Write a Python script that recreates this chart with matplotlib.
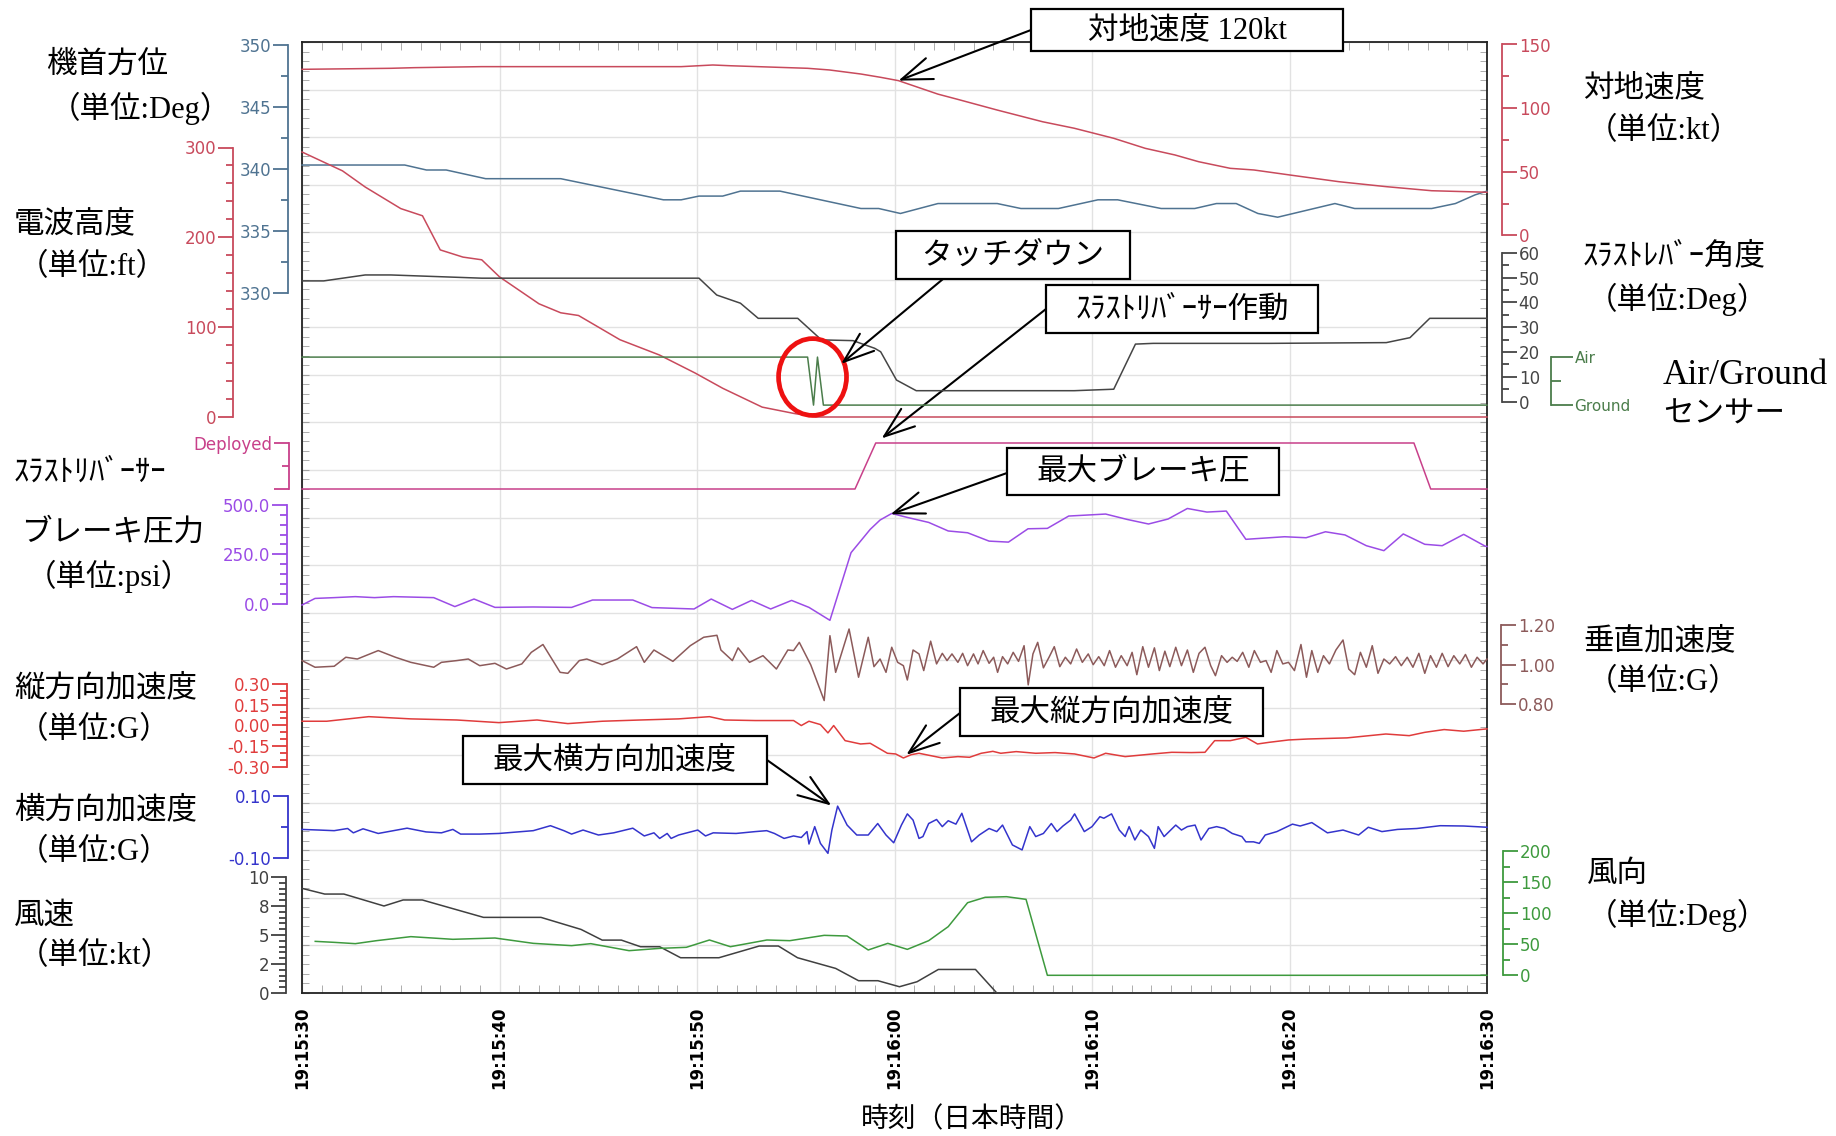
import matplotlib
matplotlib.use('Agg')
import matplotlib.pyplot as plt
from matplotlib.patches import Rectangle, Ellipse
from matplotlib.ticker import MultipleLocator, FixedLocator

# ---- geometry of the reference (pixels) ----
W, H = 1836, 1136
X0, X1 = 302, 1487
Y0, Y1 = 42, 993
PW = X1 - X0

JP = ['Noto Sans CJK JP']
SERIF_JP = ['Liberation Serif', 'Noto Sans CJK JP']

# ---- data: seconds after 19:15:30 ----
time_labels = ['19:15:30', '19:15:40', '19:15:50', '19:16:00', '19:16:10', '19:16:20', '19:16:30']

gs_t = [0, 4.5, 5.7, 9.1, 19.2, 20.8, 21.7, 25.6, 26.7, 28.3, 29.3, 30.2, 32.2, 33.2, 35.2, 37.5,
        39.1, 41.1, 42.7, 44.2, 45.4, 47.0, 48.2, 50.0, 52.5, 54.9, 57.2, 60.0]
gs_v = [130.5, 131.3, 131.8, 132.6, 132.6, 133.9, 133.3, 131.3, 130.0, 126.8, 124.2, 121.6, 111.0,
        106.9, 98.5, 89.3, 84.2, 76.3, 68.4, 63.2, 57.9, 52.7, 51.4, 47.5, 42.2, 38.3, 35.1, 33.9]

hd_t = [0, 5.2, 6.3, 7.3, 9.3, 13.1, 18.3, 19.2, 20.1, 21.3, 22.2, 24.2, 28.3, 29.2, 30.3, 32.2, 35.2,
        36.4, 38.3, 40.3, 41.3, 43.5, 45.2, 46.3, 47.3, 48.4, 49.4, 52.3, 53.3, 57.2, 58.4, 59.4, 60]
hd_v = [340.3, 340.3, 339.9, 339.9, 339.2, 339.2, 337.5, 337.5, 337.8, 337.8, 338.2, 338.2, 336.8,
        336.8, 336.4, 337.2, 337.2, 336.8, 336.8, 337.5, 337.5, 336.8, 336.8, 337.2, 337.2, 336.4,
        336.1, 337.2, 336.8, 336.8, 337.2, 337.9, 338.2]

ra_t = [0, 2.05, 3.2, 5.0, 6.1, 7.0, 8.15, 9.1, 10.0, 12.0, 13.1, 14.0, 16.1, 18.1, 19.9, 21.3,
        23.3, 24.9, 26.0, 60]
ra_v = [295, 274, 256, 232, 224, 186, 178, 175, 156, 126, 116, 113, 86, 69, 49, 32, 11, 4, 0, 0]

tl_t = [0, 1.1, 3.2, 4.5, 9.1, 20.1, 21.0, 22.2, 23.1, 25.1, 26.3, 27.9, 29.0, 29.3, 30.1, 31.1,
        39.1, 41.1, 42.2, 43.1, 49.0, 54.9, 56.1, 57.1, 60]
tl_v = [48.7, 48.7, 51.1, 51.1, 49.8, 49.8, 43.0, 39.7, 33.6, 33.6, 24.9, 24.6, 21.5, 20.1, 8.7, 4.4,
        4.4, 5.0, 23.2, 23.5, 23.5, 23.8, 25.8, 33.6, 33.6]

ag_t = [0, 25.6, 25.9, 26.1, 26.4, 60]
ag_v = [1, 1, 0, 1, 0, 0]

tr_t = [0, 28.0, 29.05, 56.3, 57.15, 60]
tr_v = [0, 0, 1, 1, 0, 0]

bp_t = [0, 0.66, 1.63, 2.7, 3.67, 4.64, 6.67, 7.74, 8.71, 9.77, 11.71, 13.65, 14.71, 16.75, 17.72,
        19.85, 20.72, 21.79, 22.76, 23.73, 24.79, 25.67, 26.73, 27.8, 28.77, 29.27, 29.86, 30.65,
        31.73, 32.72, 33.7, 34.79, 35.77, 36.76, 37.74, 38.82, 40.69, 41.78, 42.86, 43.85, 44.83,
        45.82, 46.8, 47.79, 49.75, 50.84, 51.82, 52.81, 53.89, 54.78, 55.76, 56.85, 57.73, 58.82,
        59.9, 60]
bp_v = [-4, 29, 33, 38, 33, 38, 33, -12, 26, -16, -14, -16, 21, 21, -17, -24, 26, -26, 19, -24, 19,
        -16, -81, 259, 376, 423, 456, 436, 411, 368, 359, 317, 312, 379, 381, 443, 453, 426, 403, 428,
        481, 463, 468, 326, 339, 334, 364, 348, 294, 269, 353, 301, 294, 351, 292, 290]

va_t = [0, 0.66, 1.63, 2.22, 2.8, 3.86, 4.73, 5.51, 6.67, 7.06, 7.84, 8.42, 9.0, 9.77, 10.35, 11.13,
        11.61, 12.2, 13.07, 13.46, 14.04, 14.42, 15.2, 15.97, 16.94, 17.33, 17.82, 18.78, 19.66,
        20.34, 21.01, 21.21, 21.79, 22.08, 22.66, 23.34, 24.02, 24.6, 24.89, 25.18, 25.76, 26.44,
        26.73, 27.02, 27.7, 28.18, 28.67, 28.96,
        29.27, 29.57, 29.86, 30.16, 30.45, 30.65, 30.94, 31.24, 31.48, 31.83, 32.13, 32.42, 32.66,
        32.91, 33.21, 33.45, 33.70, 34.00, 34.23, 34.49, 34.79, 35.02, 35.22, 35.47, 35.73, 36.01,
        36.28, 36.56, 36.77, 37.01, 37.25, 37.54, 37.84, 38.09, 38.37, 38.65, 38.92, 39.22, 39.51,
        39.81, 40.06, 40.34, 40.62, 40.89, 41.19, 41.48, 41.78, 42.03, 42.27, 42.57, 42.86, 43.16,
        43.41, 43.69, 43.94, 44.24, 44.53, 44.83, 45.13, 45.42, 45.72, 46.01, 46.25, 46.56, 46.84,
        47.10, 47.35, 47.63, 47.94, 48.22, 48.53, 48.81, 49.07, 49.36, 49.66, 49.95, 50.25, 50.58,
        50.86, 51.13, 51.43, 51.72, 52.02, 52.35, 52.71, 53.00, 53.30, 53.59, 53.89, 54.19, 54.48,
        54.78, 55.07, 55.37, 55.66, 55.96, 56.25, 56.55, 56.85, 57.14, 57.44, 57.73, 58.03, 58.32,
        58.62, 58.91, 59.21, 59.50, 59.80, 60.0]
va_v = [1.020, 0.986, 0.991, 1.037, 1.028, 1.071, 1.037, 1.011, 0.986, 1.011, 1.020, 1.028, 0.994,
        1.006, 0.977, 1.003, 1.062, 1.102, 0.960, 0.955, 1.020, 1.028, 0.999, 1.028, 1.091, 1.011,
        1.074, 1.016, 1.096, 1.139, 1.149, 1.074, 1.020, 1.085, 1.011, 1.045, 0.977, 1.074, 1.071,
        1.113, 0.998, 0.816, 1.147, 0.960, 1.181, 0.935, 1.139, 0.989,
        1.028, 0.960, 1.088, 1.011, 0.994, 0.921, 1.074, 1.054, 0.969, 1.119, 1.003, 1.057, 1.020,
        1.054, 1.011, 1.057, 0.994, 1.054, 1.003, 1.071, 1.006, 1.037, 0.960, 1.040, 1.003, 1.062,
        1.016, 1.096, 0.896, 1.054, 1.113, 0.983, 1.040, 1.091, 0.989, 1.037, 1.003, 1.079, 1.011,
        1.054, 0.999, 1.040, 0.994, 1.071, 0.986, 1.045, 0.994, 1.062, 0.948, 1.091, 0.986, 1.085,
        0.969, 1.068, 0.989, 1.088, 0.994, 1.074, 0.960, 1.057, 1.088, 0.994, 0.943, 1.045, 1.011,
        1.037, 1.016, 1.062, 0.986, 1.071, 1.011, 1.020, 0.960, 1.071, 1.003, 1.011, 0.969, 1.102,
        0.935, 1.071, 0.960, 1.045, 1.003, 1.074, 1.125, 0.977, 0.948, 1.062, 0.986, 1.096, 0.955,
        1.028, 1.003, 1.040, 0.994, 1.037, 0.986, 1.057, 0.955, 1.045, 0.986, 1.057, 0.989, 1.045,
        1.003, 1.051, 0.986, 1.037, 1.003, 1.028]

la_t = [0, 1.25, 3.38, 5.51, 7.84, 9.97, 11.9, 13.46, 15.2, 17.14, 19.07, 20.63, 21.4, 22.95, 24.89,
        25.28, 25.67, 26.25, 26.63, 26.92, 27.5, 28.28, 28.77, 29.64, 30.06, 30.45, 30.85, 31.24,
        31.83, 32.42, 33.21, 33.8, 34.39, 34.98, 35.38, 36.16, 37.15, 38.13, 39.12, 40.1, 40.69,
        41.68, 43.06, 44.04, 45.03, 45.72, 46.21, 47.0, 47.79, 48.38, 48.97, 49.95, 50.94, 52.91,
        54.88, 56.06, 56.85, 57.83, 58.82, 60]
la_v = [0.030, 0.030, 0.063, 0.047, 0.039, 0.020, 0.039, 0.013, 0.030, 0.039, 0.047, 0.063, 0.039,
        0.035, 0.035, -0.001, 0.030, 0.006, -0.054, -0.001, -0.110, -0.134, -0.129, -0.201, -0.206,
        -0.235, -0.211, -0.201, -0.218, -0.235, -0.225, -0.230, -0.201, -0.187, -0.201, -0.189,
        -0.201, -0.196, -0.206, -0.235, -0.201, -0.225, -0.206, -0.194, -0.196, -0.194, -0.110,
        -0.110, -0.086, -0.134, -0.122, -0.105, -0.098, -0.090, -0.062, -0.074, -0.050, -0.030,
        -0.042, -0.025]

lat_t = [0, 0.86, 1.63, 2.31, 2.60, 3.09, 3.86, 5.32, 6.28, 7.06, 7.64, 8.03, 9.0, 9.97, 10.94,
         11.71, 12.58, 13.26, 13.65, 14.23, 15.01, 15.78, 16.75, 17.33, 17.82, 18.11, 18.49, 18.69,
         19.07, 20.04, 20.43, 20.82, 21.98, 22.95, 23.53, 23.92, 24.41, 24.89, 25.28, 25.57, 25.67,
         25.96, 26.25, 26.63, 26.83, 27.12, 27.6, 28.09, 28.67, 29.15,
         29.57, 29.96, 30.35, 30.65, 30.94, 31.24, 31.44, 31.73, 32.13, 32.42, 32.72, 33.11, 33.41,
         33.9, 34.29, 34.79, 35.18, 35.47, 35.97, 36.46, 36.85, 37.15, 37.54, 37.94, 38.23, 38.53,
         38.92, 39.12, 39.61, 40.0, 40.4, 40.6, 40.99, 41.38, 41.68, 41.88, 42.17, 42.47, 42.86,
         43.16, 43.35, 43.65, 44.24, 44.53, 44.83, 45.22, 45.52, 45.91, 46.31, 46.7, 47.1, 47.59,
         47.79, 48.18, 48.47, 48.77, 49.36, 50.15, 50.54, 51.13, 51.92, 52.71, 53.5, 53.99, 54.68,
         55.47, 56.45, 57.63, 58.82, 60.0]
lat_v = [-0.007, -0.009, -0.011, -0.004, -0.018, -0.005, -0.020, -0.003, -0.015, -0.018, -0.007,
         -0.022, -0.022, -0.020, -0.015, -0.011, 0.005, -0.011, -0.022, -0.009, -0.025, -0.018,
         -0.003, -0.028, -0.018, -0.036, -0.020, -0.036, -0.025, -0.009, -0.028, -0.018, -0.020,
         -0.014, -0.011, -0.020, -0.036, -0.028, -0.033, -0.014, -0.054, 0.002, -0.052, -0.084,
         -0.009, 0.068, 0.007, -0.025, -0.025, 0.012,
         -0.025, -0.050, 0.007, 0.043, 0.023, -0.036, -0.030, 0.012, 0.025, 0.002, 0.021, 0.010,
         0.045, -0.047, -0.025, -0.004, -0.014, 0.007, -0.057, -0.073, 0.002, -0.030, -0.020, 0.012,
         -0.014, 0.004, 0.023, 0.043, -0.014, 0.002, 0.034, 0.029, 0.043, -0.009, -0.030, 0.002,
         -0.041, -0.009, -0.030, -0.068, 0.002, -0.030, 0.007, -0.009, 0.002, 0.007, -0.041, -0.004,
         0.002, -0.004, -0.020, -0.030, -0.047, -0.047, -0.052, -0.025, -0.014, 0.010, 0.004, 0.015,
         -0.018, -0.009, -0.025, 0.000, -0.014, -0.007, -0.004, 0.005, 0.004, 0.000]

ws_t = [0, 1.15, 2.12, 4.15, 5.12, 6.09, 9.19, 12.1, 14.13, 15.2, 16.17, 17.14, 18.11, 19.17, 21.11,
        23.15, 24.12, 25.09, 27.02, 28.18, 29.16, 30.25, 31.14, 32.22, 34.1, 35.18, 60]
ws_v = [9.02, 8.53, 8.53, 7.5, 8.02, 8.02, 6.52, 6.52, 5.48, 4.56, 4.56, 3.99, 3.99, 3.04, 3.04,
        4.05, 4.05, 3.04, 2.12, 1.06, 1.06, 0.54, 0.97, 2.03, 2.03, 0, 0]

wd_t = [0.67, 1.63, 2.7, 3.77, 5.51, 7.64, 9.77, 11.71, 13.65, 14.62, 16.56, 18.11, 19.46, 20.63,
        21.69, 23.54, 24.7, 26.44, 27.6, 28.67, 29.66, 30.65, 31.73, 32.72, 33.7, 34.59, 35.67,
        36.66, 37.74, 60]
wd_v = [54.7, 53.1, 51.0, 55.8, 62.3, 58, 60.1, 51.5, 47.8, 51.0, 39.7, 43.4, 45.1, 56.9, 46.1,
        56.9, 55.8, 64.4, 63.3, 40.8, 51.5, 41.8, 55.8, 78.4, 117, 125.7, 126.7, 122.4, 0, 0]

# ---- figure ----
fig = plt.figure(figsize=(W / 100, H / 100), dpi=100)
fig.patch.set_facecolor('white')


def fx(x):
    return x / W


def fy(y):
    return 1 - y / H


main = fig.add_axes([fx(X0), fy(Y1), PW / W, (Y1 - Y0) / H])
main.set_xlim(0, 60)
main.set_ylim(0, 20)
main.set_axisbelow(True)
main.set_xticks(range(0, 61, 10))
main.set_xticklabels(time_labels, rotation=90, fontsize=12, fontweight='bold')
main.xaxis.set_minor_locator(MultipleLocator(1))
main.set_yticks(range(21))
main.yaxis.set_minor_locator(MultipleLocator(0.2))
main.grid(True, which='major', color='#e2e2e2', lw=1.0)
main.tick_params(which='both', direction='in', top=True, right=True, color='#a0a0a0',
                 labelleft=False)
main.tick_params(axis='x', which='major', length=0, pad=10)
main.tick_params(axis='x', which='minor', length=6)
main.tick_params(axis='y', which='both', length=5)
for s in main.spines.values():
    s.set_linewidth(1.3)
    s.set_color('#222222')


def scale_axis(ytop, ybot, lo, hi, side, xsp, color, ticks, labels, minor,
               major_len=11, minor_len=5, fs=12):
    ax = fig.add_axes([fx(X0), fy(ybot), PW / W, (ybot - ytop) / H])
    ax.set_xlim(0, 60)
    ax.set_ylim(lo, hi)
    ax.patch.set_visible(False)
    for s in ax.spines.values():
        s.set_visible(False)
    sp = ax.spines[side]
    sp.set_visible(True)
    sp.set_position(('axes', (xsp - X0) / PW))
    sp.set_color(color)
    sp.set_linewidth(1.3)
    ax.yaxis.set_ticks_position(side)
    ax.set_yticks(ticks)
    ax.set_yticklabels(labels)
    if isinstance(minor, list):
        ax.yaxis.set_minor_locator(FixedLocator(minor))
    else:
        ax.yaxis.set_minor_locator(MultipleLocator(minor))
    ax.tick_params(axis='y', which='major', colors=color, length=major_len, width=1.3,
                   labelsize=fs, pad=1)
    ax.tick_params(axis='y', which='minor', colors=color, length=minor_len, width=1.3)
    ax.set_xticks([])
    return ax


C_HD = '#4f7391'
C_RA = '#c84a5c'
C_GS = '#c84a5c'
C_TL = '#454545'
C_AG = '#4b7d4b'
C_TR = '#c8408a'
C_BP = '#9b4ce6'
C_VA = '#8c5a5a'
C_LA = '#e03c3c'
C_LAT = '#3434cc'
C_WS = '#404040'
C_WD = '#3e9a3e'

ax_hd = scale_axis(44.5, 293, 330, 350, 'left', 288, C_HD, [330, 335, 340, 345, 350],
                   ['330', '335', '340', '345', '350'], 2.5)
ax_ra = scale_axis(147.5, 417, 0, 300, 'left', 233, C_RA, [0, 100, 200, 300],
                   ['0', '100', '200', '300'], 20)
ax_tr = scale_axis(443, 489, 0, 1, 'left', 289, C_TR, [0, 1], ['', 'Deployed'], [0.5])
ax_bp = scale_axis(504.7, 604.2, 0, 500, 'left', 287, C_BP, [0, 250, 500],
                   ['0.0', '250.0', '500.0'], 50)
ax_la = scale_axis(683.8, 767, -0.3, 0.3, 'left', 287, C_LA, [-0.3, -0.15, 0, 0.15, 0.3],
                   ['-0.30', '-0.15', '0.00', '0.15', '0.30'], 0.05)
ax_lat = scale_axis(796.2, 858.3, -0.1, 0.1, 'left', 288, C_LAT, [-0.1, 0.1],
                    ['-0.10', '0.10'], [0.0])
ax_ws = scale_axis(877, 993, 0, 10, 'left', 286, C_WS, [0, 2.5, 5, 7.5, 10],
                   ['0', '2', '5', '8', '10'], 0.5)

ax_gs = scale_axis(44.5, 235.4, 0, 150, 'right', 1502, C_GS, [0, 50, 100, 150],
                   ['0', '50', '100', '150'], 25)
ax_tl = scale_axis(252.9, 401.6, 0, 60, 'right', 1502, C_TL, list(range(0, 61, 10)),
                   [str(v) for v in range(0, 61, 10)], 5)
ax_ag = scale_axis(357.1, 405.1, 0, 1, 'right', 1551, C_AG, [0, 1], ['Ground', 'Air'], [0.5],
                   major_len=16, minor_len=7, fs=11)
ax_va = scale_axis(625.3, 703.7, 0.8, 1.2, 'right', 1501, C_VA, [0.8, 1.0, 1.2],
                   ['0.80', '1.00', '1.20'], 0.1)
ax_wd = scale_axis(851.2, 975.3, 0, 200, 'right', 1503, C_WD, [0, 50, 100, 150, 200],
                   ['0', '50', '100', '150', '200'], 25)

LW = 1.1
ax_gs.plot(gs_t, gs_v, color=C_GS, lw=LW, clip_on=False)
ax_hd.plot(hd_t, hd_v, color=C_HD, lw=LW, clip_on=False)
ax_ra.plot(ra_t, ra_v, color=C_RA, lw=LW, clip_on=False)
ax_tl.plot(tl_t, tl_v, color=C_TL, lw=LW, clip_on=False)
ax_ag.plot(ag_t, ag_v, color=C_AG, lw=LW, clip_on=False)
ax_tr.plot(tr_t, tr_v, color=C_TR, lw=LW, clip_on=False)
ax_bp.plot(bp_t, bp_v, color=C_BP, lw=LW, clip_on=False)
ax_va.plot(va_t, va_v, color=C_VA, lw=LW, clip_on=False)
ax_la.plot(la_t, la_v, color=C_LA, lw=LW, clip_on=False)
ax_lat.plot(lat_t, lat_v, color=C_LAT, lw=LW, clip_on=False)
ax_ws.plot(ws_t, ws_v, color=C_WS, lw=LW, clip_on=False)
ax_wd.plot(wd_t, wd_v, color=C_WD, lw=LW, clip_on=False)

# touchdown circle
ax_ag.add_patch(Ellipse((25.85, 0.585), 3.44, 1.6, fill=False, edgecolor='#ee1111', lw=3.4,
                        clip_on=False, zorder=5))

# ---- side labels ----
side_labels = [
    ('機首方位', 46, 65), ('（単位:Deg）', 50, 108),
    ('電波高度', 14, 225), ('（単位:ft）', 18, 268),
    ('ｽﾗｽﾄﾘﾊﾞｰｻｰ', 14, 473),
    ('ブレーキ圧力', 21, 533), ('（単位:psi）', 26, 576),
    ('縦方向加速度', 14, 689), ('（単位:G）', 18, 731),
    ('横方向加速度', 14, 811), ('（単位:G）', 18, 853),
    ('風速', 14, 916), ('（単位:kt）', 18, 957),
    ('対地速度', 1583, 89), ('（単位:kt）', 1587, 132),
    ('ｽﾗｽﾄﾚﾊﾞｰ角度', 1583, 257), ('（単位:Deg）', 1587, 299),
    ('垂直加速度', 1583, 642), ('（単位:G）', 1587, 683),
    ('風向', 1587, 874), ('（単位:Deg）', 1587, 915),
    ('センサー', 1663, 415),
]
for s, x, y in side_labels:
    fig.text(fx(x), fy(y), s, fontsize=22, fontfamily=SERIF_JP, ha='left', va='center')
fig.text(fx(1663), fy(376), 'Air/Ground', fontsize=25.5, fontfamily=['Liberation Serif'],
         ha='left', va='center')

fig.text(fx(972), fy(1119), '時刻（日本時間）', fontsize=20, fontfamily=JP,
         ha='center', va='center')

# ---- callout boxes ----
boxes = [
    ('対地速度 120kt', 1031, 1343, 9, 51, ax_gs, (30.2, 121.6), (1031, 30)),
    ('タッチダウン', 896, 1130, 231, 279, ax_ag, (27.3, 0.86), (943, 279)),
    ('ｽﾗｽﾄﾘﾊﾞｰｻｰ作動', 1046, 1318, 285, 333, ax_tr, (29.35, 1.1), (1046, 309)),
    ('最大ブレーキ圧', 1007, 1279, 448, 495, ax_bp, (29.8, 452), (1007, 473)),
    ('最大縦方向加速度', 960, 1263, 688, 736, ax_la, (30.6, -0.212), (960, 713)),
    ('最大横方向加速度', 463, 767, 736, 784, ax_lat, (26.8, 0.07), (767, 760)),
]
for s, xa, xb, ya, yb, ax, target, start in boxes:
    fig.patches.append(Rectangle((fx(xa), fy(yb)), (xb - xa) / W, (yb - ya) / H,
                                 transform=fig.transFigure, facecolor='white',
                                 edgecolor='black', lw=1.6, zorder=6))
    fig.text(fx((xa + xb) / 2), fy((ya + yb) / 2 + 1), s, fontsize=22, fontfamily=SERIF_JP,
             ha='center', va='center', zorder=7)
    ax.annotate('', xy=target, xycoords='data',
                xytext=(fx(start[0]), fy(start[1])), textcoords='figure fraction',
                arrowprops=dict(arrowstyle='->,head_length=1.1,head_width=0.4',
                                mutation_scale=20, lw=1.5, color='black',
                                shrinkA=0, shrinkB=0),
                annotation_clip=False, zorder=6)

fig.savefig('out.png', dpi=100, facecolor='white')
